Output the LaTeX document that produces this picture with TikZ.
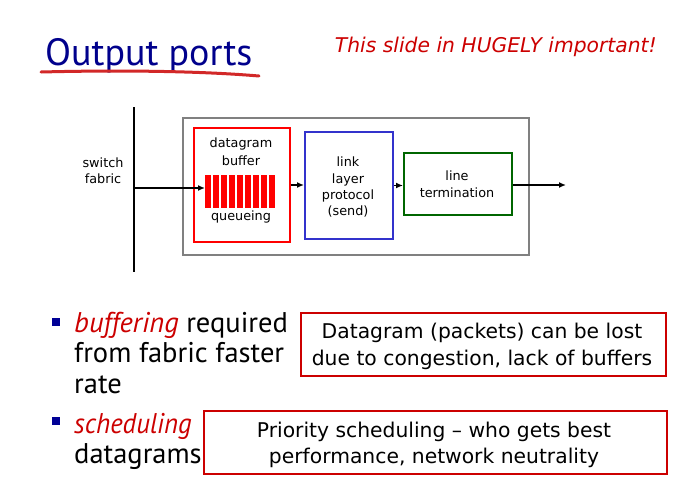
\documentclass[tikz,border=0pt]{standalone}
\usepackage{fontspec}
\setmainfont{DejaVu Sans}
\newfontfamily\gill{PT Sans}
\usetikzlibrary{arrows.meta}
\definecolor{navy}{RGB}{0,0,140}
\definecolor{slidered}{RGB}{204,0,0}
\definecolor{lineRed}{RGB}{210,40,40}
\definecolor{boxblue}{RGB}{51,51,204}
\definecolor{boxgreen}{RGB}{0,102,0}
\definecolor{bulletblue}{RGB}{0,0,150}
\begin{document}
\begin{tikzpicture}[x=1pt,y=-1pt,
  lbl/.style={font=\fontsize{12.8}{15}\selectfont, anchor=base, inner sep=0pt},
  boxtxt/.style={font=\fontsize{20.3}{24}\selectfont, anchor=base, inner sep=0pt},
  bul/.style={font=\gill\fontsize{28.5}{30}\selectfont, anchor=base west, inner sep=0pt},
  blk/.style={draw, line width=2pt, inner sep=0pt, anchor=north west},
  note/.style={draw=slidered, line width=1.5pt, inner sep=0pt, anchor=north west},
  arr/.style={line width=1.5pt, -{Latex[length=7pt,width=6pt]}},
  sq/.style={fill=bulletblue, inner sep=0pt, minimum size=8pt, anchor=north west}
]
\useasboundingbox[fill=white] (0,0) rectangle (689,491);

% title
\node[font=\gill\fontsize{38}{44}\selectfont, text=navy, anchor=base west, inner sep=0pt] (title) at (45,65) {Output ports};
\draw[lineRed, line width=3pt, line cap=round] (41,72) .. controls (120,70) and (200,71) .. (259,76);
\node[font=\itshape\fontsize{20.3}{24}\selectfont, text=slidered, anchor=base east, inner sep=0pt] (warn) at (657,52) {This slide in HUGELY important!};

% switch fabric
\draw[line width=2.5pt] (134,107) coordinate (ftop) -- (134,272) coordinate (fbot);
\coordinate (fab) at (134,188);
\node[lbl] (sw1) at (103,167) {switch};
\node[lbl] (sw2) at (103,183) {fabric};

% outer box
\node[draw=gray, line width=1.5pt, inner sep=0pt, anchor=north west, minimum width=346pt, minimum height=137pt] (outer) at (182,117) {};

% datagram buffer
\node[blk, draw=red, minimum width=96pt, minimum height=114pt] (buf) at (193,127) {};
\node[lbl] (t1) at (241,147) {datagram};
\node[lbl] (t2) at (241,165) {buffer};
\node[inner sep=0pt, minimum width=72pt, minimum height=33pt, anchor=north west] (bars) at (205,175) {};
\foreach \i in {0,...,8} \fill[red] (205+8*\i,175) rectangle ++(6,33);
\node[lbl] (t3) at (241,220) {queueing};

% link layer
\node[blk, draw=boxblue, minimum width=88pt, minimum height=107pt] (link) at (304,131) {};
\node[lbl] (l1) at (348,166) {link};
\node[lbl] (l2) at (348,183) {layer};
\node[lbl] (l3) at (348,199) {protocol};
\node[lbl] (l4) at (348,215) {(send)};

% line termination
\node[blk, draw=boxgreen, minimum width=108pt, minimum height=62pt] (term) at (403,152) {};
\node[lbl] (m1) at (457,180) {line};
\node[lbl] (m2) at (457,197) {termination};
\coordinate (out) at (566,185);

% connectors
\draw[arr] (fab) -- (fab -| bars.west);
\draw[arr] (buf.east) -- (buf.east -| link.west);
\draw[arr] (link.east) -- (link.east -| term.west);
\draw[arr] (term.east |- out) -- (out);

% bullets
\node[sq] (b1) at (52,318) {};
\node[bul] (bt1) at (74,332) {\textcolor{slidered}{\itshape buffering} required};
\node[bul] (bt2) at (74,362) {from fabric faster};
\node[bul] (bt3) at (74,393) {rate};
\node[sq] (b2) at (52,417) {};
\node[bul] (bt4) at (74,433) {\textcolor{slidered}{\scalebox{0.94}[1]{\itshape scheduling}}};
\node[bul] (bt5) at (74,463) {datagrams};

% notes
\node[note, minimum width=365pt, minimum height=63pt] (n1) at (300,312) {};
\node[boxtxt] (n1a) at (482,338) {Datagram (packets) can be lost};
\node[boxtxt] (n1b) at (482,365) {due to congestion, lack of buffers};
\node[note, minimum width=463pt, minimum height=63pt] (n2) at (203,410) {};
\node[boxtxt] (n2a) at (434,437) {Priority scheduling – who gets best};
\node[boxtxt] (n2b) at (434,463) {performance, network neutrality};
\end{tikzpicture}
\end{document}
